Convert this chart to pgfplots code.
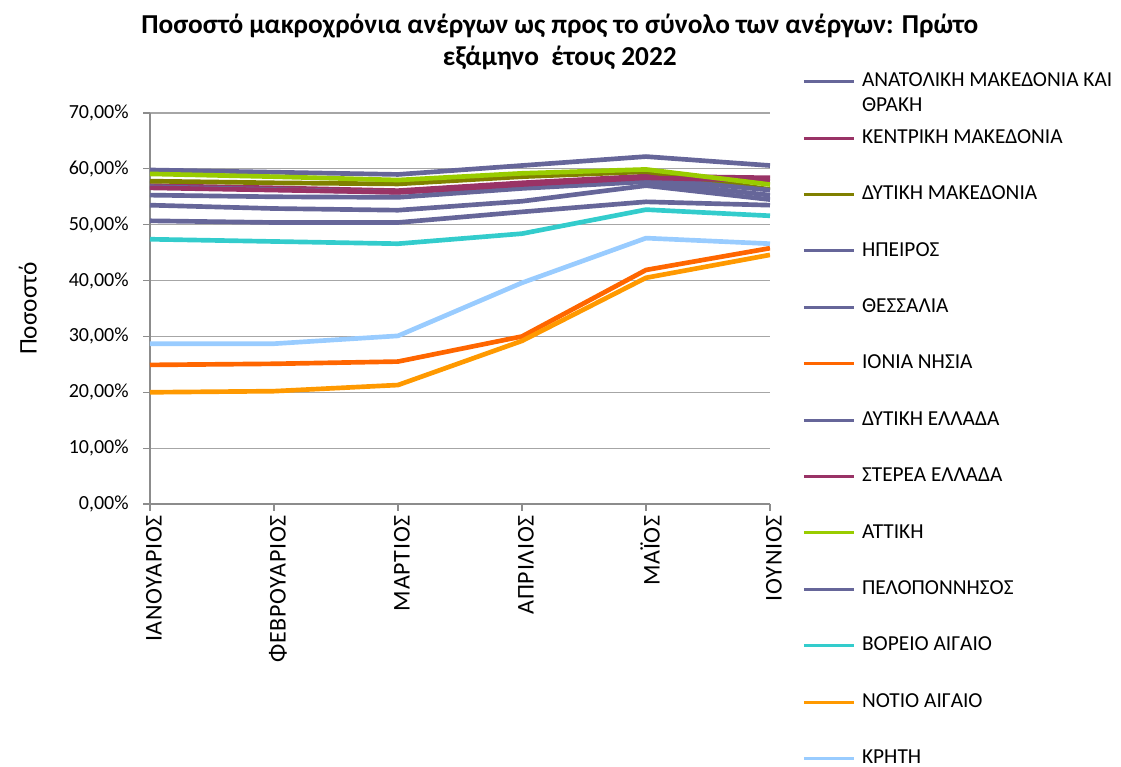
\documentclass[border=0pt]{standalone}
\usepackage{fontspec}
\setmainfont{Carlito}
\usepackage{pgfplots}
\pgfplotsset{compat=1.18}
\definecolor{cpurple}{HTML}{666699}
\definecolor{cmag}{HTML}{993366}
\definecolor{colive}{HTML}{808000}
\definecolor{cgreen}{HTML}{99CC00}
\definecolor{cteal}{HTML}{33CCCC}
\definecolor{cred}{HTML}{FF6600}
\definecolor{corange}{HTML}{FF9900}
\definecolor{cblue}{HTML}{99CCFF}
\begin{document}
\begin{tikzpicture}
\begin{axis}[
  scale only axis, width=465pt, height=293.25pt,
  xmin=0, xmax=5, ymin=0, ymax=70,
  axis lines=left, axis line style={-, draw=gray!90, line width=0.8pt},
  xtick={0,...,5},
  xticklabels={ΙΑΝΟΥΑΡΙΟΣ,ΦΕΒΡΟΥΑΡΙΟΣ,ΜΑΡΤΙΟΣ,ΑΠΡΙΛΙΟΣ,ΜΑΪΟΣ,ΙΟΥΝΙΟΣ},
  x tick label style={rotate=90, anchor=east, yshift=-3pt, font=\fontsize{18}{21}\selectfont\addfontfeatures{LetterSpace=3}},
  ytick={0,10,...,70},
  yticklabel={\pgfmathprintnumber[fixed,fixed zerofill,precision=2,use comma]{\tick}\%},
  y tick label style={xshift=-7.5pt, font=\fontsize{15}{18}\selectfont},
  /pgf/number format/assume math mode=true,
  tick align=outside, major tick length=5pt,
  tick style={draw=gray!90, line width=0.8pt},
  ymajorgrids, grid style={draw=gray!70, line width=0.9pt},
  title={Ποσοστό μακροχρόνια ανέργων ως προς το σύνολο των ανέργων: Πρώτο\\εξάμηνο~ έτους 2022},
  title style={font=\bfseries\fontsize{20.5}{24}\selectfont, align=center, at={(axis description cs:0.661,1.162)}, anchor=center},
  ylabel={Ποσοστό},
  every axis y label/.style={at={(axis description cs:-0.197,0.5)}, rotate=90, anchor=center, font=\fontsize{19}{22}\selectfont},
  every axis plot/.append style={line width=3.5pt, line join=round, mark=none},
  legend image code/.code={\draw[#1, line width=2.2pt] (0pt,4pt) -- (37.5pt,4pt);},
  legend cell align=left,
  legend style={at={(axis description cs:1.052,1.115)}, anchor=north west, draw=none, fill=none, inner sep=0pt,
    font=\fontsize{16}{18.75}\selectfont,
    cells={anchor=base west},
    nodes={inner ysep=0pt, inner xsep=0pt, text height=14pt, text depth=28.3pt},
    row sep=0pt,
    /tikz/every odd column/.append style={column sep=5pt}},
]
\coordinate (SW) at (rel axis cs:0,0);
\addplot[cpurple] coordinates {(0,59.8) (1,59.4) (2,59.0) (3,60.6) (4,62.2) (5,60.6)};
\addlegendentry{\vtop{\hbox{ΑΝΑΤΟΛΙΚΗ ΜΑΚΕΔΟΝΙΑ ΚΑΙ}\hbox{ΘΡΑΚΗ}}}
\addplot[cmag] coordinates {(0,57.0) (1,56.6) (2,56.1) (3,57.5) (4,58.7) (5,58.4)};
\addlegendentry{ΚΕΝΤΡΙΚΗ ΜΑΚΕΔΟΝΙΑ}
\addplot[colive] coordinates {(0,57.8) (1,57.5) (2,57.3) (3,58.6) (4,59.5) (5,56.3)};
\addlegendentry{ΔΥΤΙΚΗ ΜΑΚΕΔΟΝΙΑ}
\addplot[cpurple] coordinates {(0,56.8) (1,56.3) (2,55.8) (3,57.0) (4,58.3) (5,56.2)};
\addlegendentry{ΗΠΕΙΡΟΣ}
\addplot[cpurple] coordinates {(0,55.3) (1,55.0) (2,54.9) (3,56.5) (4,57.7) (5,55.3)};
\addlegendentry{ΘΕΣΣΑΛΙΑ}
\addplot[cred] coordinates {(0,24.9) (1,25.1) (2,25.5) (3,30.0) (4,41.9) (5,45.8)};
\addlegendentry{ΙΟΝΙΑ ΝΗΣΙΑ}
\addplot[cpurple] coordinates {(0,53.5) (1,52.9) (2,52.6) (3,54.2) (4,57.0) (5,54.5)};
\addlegendentry{ΔΥΤΙΚΗ ΕΛΛΑΔΑ}
\addplot[cmag] coordinates {(0,56.6) (1,56.2) (2,55.8) (3,57.2) (4,58.4) (5,57.9)};
\addlegendentry{ΣΤΕΡΕΑ ΕΛΛΑΔΑ}
\addplot[cgreen] coordinates {(0,59.1) (1,58.6) (2,58.0) (3,59.2) (4,59.9) (5,57.2)};
\addlegendentry{ΑΤΤΙΚΗ}
\addplot[cpurple] coordinates {(0,50.7) (1,50.4) (2,50.4) (3,52.3) (4,54.1) (5,53.5)};
\addlegendentry{ΠΕΛΟΠΟΝΝΗΣΟΣ}
\addplot[cteal] coordinates {(0,47.4) (1,47.0) (2,46.6) (3,48.4) (4,52.7) (5,51.6)};
\addlegendentry{ΒΟΡΕΙΟ ΑΙΓΑΙΟ}
\addplot[corange] coordinates {(0,20.0) (1,20.2) (2,21.3) (3,29.2) (4,40.5) (5,44.6)};
\addlegendentry{ΝΟΤΙΟ ΑΙΓΑΙΟ}
\addplot[cblue] coordinates {(0,28.7) (1,28.7) (2,30.1) (3,39.6) (4,47.6) (5,46.6)};
\addlegendentry{ΚΡΗΤΗ}
\end{axis}
\pgfresetboundingbox
\path[use as bounding box] ([shift={(-112.5pt,-197.25pt)}]SW) rectangle ++(840.75pt,575.25pt);
\end{tikzpicture}
\end{document}
